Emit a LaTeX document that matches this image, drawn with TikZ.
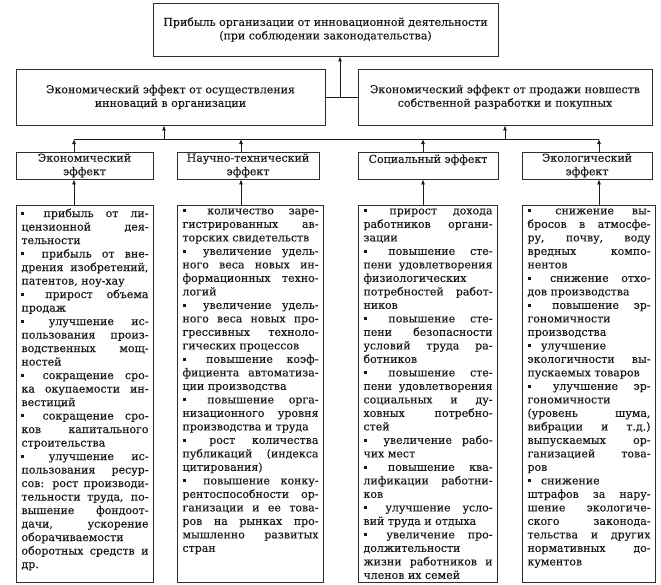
\documentclass[tikz,border=0pt]{standalone}
\usepackage{fontspec}
\setmainfont[FakeBold=0.35]{DejaVu Serif}
\usepackage{tikz}
\usetikzlibrary{arrows.meta,positioning,calc}
\definecolor{ink}{HTML}{1C1C1C}
\definecolor{frame}{HTML}{2E2E2E}
\definecolor{txt}{HTML}{1E1818}
\newcommand{\boxfont}{\fontsize{11pt}{13.5pt}\selectfont}
\newcommand{\blt}{\raisebox{2.2pt}{\rule{3pt}{3pt}}\hspace{7pt} }
\newcommand{\lst}[2]{\parbox[t][371pt][t]{#1}{\boxfont\spaceskip=0.32em plus 3em minus 0.22em
  \tolerance=10000\hbadness=10000 #2}}
\tikzset{
  hdr/.style={draw=frame, fill=white, line width=0.9pt, align=center, font=\boxfont,
              text=txt, inner sep=0pt},
  lstb/.style={draw=frame, fill=white, line width=1pt, anchor=north west, text=txt,
               inner xsep=5pt, inner ysep=3pt},
  arr/.style={-{Latex[length=5pt,width=4pt]}, line width=0.8pt, draw=ink},
  ln/.style={line width=0.8pt, draw=ink},
}
\begin{document}
\begin{tikzpicture}[x=1pt,y=-1pt]
  \useasboundingbox (0,0) rectangle (661,584);
  \node[hdr, minimum width=345pt, minimum height=53pt] (top) at (325.5,29.5)
    {Прибыль организации от инновационной деятельности\\(при соблюдении законодательства)};
  \node[hdr, minimum width=309pt, minimum height=56pt] (ecin) at (170.5,97)
    {Экономический эффект от осуществления\\инноваций в организации};
  \node[hdr, minimum width=294pt, minimum height=56pt] (ecsl) at (505,97)
    {Экономический эффект от продажи новшеств\\собственной разработки и покупных};
  \foreach \x/\w/\n/\t in {84.5/137/eec/{Экономический\\эффект}, 248/142/esci/{Научно-технический\\эффект},
                           428/140/esoc/{Социальный эффект\\~}, 587/130/eeco/{Экологический\\эффект}}
    \node[hdr, minimum width=\w pt, minimum height=27pt] (\n) at (\x,165.5) {\t};
  % lists of effects
  \node[lstb] (leec) at (16,205) {\lst{127pt}{%
    \blt прибыль от ли-\linebreak цензионной дея-\linebreak тельности\par
    \blt прибыль от вне-\linebreak дрения изобретений,\linebreak патентов, ноу-хау\par
    \blt прирост объема\linebreak продаж\par
    \blt улучшение ис-\linebreak пользования произ-\linebreak водственных мощ-\linebreak ностей\par
    \blt сокращение сро-\linebreak ка окупаемости ин-\linebreak вестиций\par
    \blt сокращение сро-\linebreak ков капитального\linebreak строительства\par
    \blt улучшение ис-\linebreak пользования ресур-\linebreak сов: рост производи-\linebreak
    тельности труда, по-\linebreak вышение фондоот-\linebreak дачи, ускорение\linebreak
    оборачиваемости\linebreak оборотных средств и\linebreak др.}};
  \node[lstb] (lsci) at (177,205) {\lst{136pt}{%
    \blt количество заре-\linebreak гистрированных ав-\linebreak торских свидетельств\par
    \blt увеличение удель-\linebreak ного веса новых ин-\linebreak формационных техно-\linebreak логий\par
    \blt увеличение удель-\linebreak ного веса новых про-\linebreak грессивных техноло-\linebreak
    гических процессов\par
    \blt повышение коэф-\linebreak фициента автоматиза-\linebreak ции производства\par
    \blt повышение орга-\linebreak низационного уровня\linebreak производства и труда\par
    \blt рост количества\linebreak публикаций (индекса\linebreak цитирования)\par
    \blt повышение конку-\linebreak рентоспособности ор-\linebreak ганизации и ее това-\linebreak
    ров на рынках про-\linebreak мышленно развитых\linebreak стран}};
  \node[lstb] (lsoc) at (358,205) {\lst{129pt}{%
    \blt прирост дохода\linebreak работников органи-\linebreak зации\par
    \blt повышение сте-\linebreak пени удовлетворения\linebreak физиологических\linebreak
    потребностей работ-\linebreak ников\par
    \blt повышение сте-\linebreak пени безопасности\linebreak условий труда ра-\linebreak ботников\par
    \blt повышение сте-\linebreak пени удовлетворения\linebreak социальных и ду-\linebreak
    ховных потребно-\linebreak стей\par
    \blt увеличение рабо-\linebreak чих мест\par
    \blt повышение ква-\linebreak лификации работни-\linebreak ков\par
    \blt улучшение усло-\linebreak вий труда и отдыха\par
    \blt увеличение про-\linebreak должительности\linebreak жизни работников и\linebreak
    членов их семей}};
  \node[lstb] (leco) at (522,205) {\lst{123pt}{%
    \blt снижение вы-\linebreak бросов в атмосфе-\linebreak ру, почву, воду\linebreak
    вредных компо-\linebreak нентов\par
    \blt снижение отхо-\linebreak дов производства\par
    \blt повышение эр-\linebreak гономичности\linebreak производства\par
    \blt улучшение\newline экологичности вы-\linebreak пускаемых товаров\par
    \blt улучшение эр-\linebreak гономичности\linebreak (уровень шума,\linebreak
    вибрации и т.д.)\linebreak выпускаемых ор-\linebreak ганизацией това-\linebreak ров\par
    \blt снижение\newline штрафов за нару-\linebreak шение экологиче-\linebreak
    ского законода-\linebreak тельства и других\linebreak нормативных до-\linebreak кументов}};
  % connectors
  \coordinate (b1) at (74,139);
  \coordinate (b2) at (241,139);
  \coordinate (b3) at (423,139);
  \coordinate (b4) at (599,139);
  \foreach \l/\e/\b in {leec/eec/b1, lsci/esci/b2, lsoc/esoc/b3, leco/eeco/b4} {
    \draw[arr] (\l.north -| \b) -- (\e.south -| \b);
    \draw[arr] (\e.north -| \b) -- (\b);
  }
  \draw[ln] (b1) -- (b4);
  \coordinate (c1) at (164,139);
  \coordinate (c2) at (505,139);
  \draw[arr] (c1) -- (c1 |- ecin.south);
  \draw[arr] (c2) -- (c2 |- ecsl.south);
  \draw[ln] (ecin.east) -- (ecsl.west);
  \coordinate (j) at (340,97);
  \draw[arr] (j) -- (j |- top.south);
\end{tikzpicture}
\end{document}
